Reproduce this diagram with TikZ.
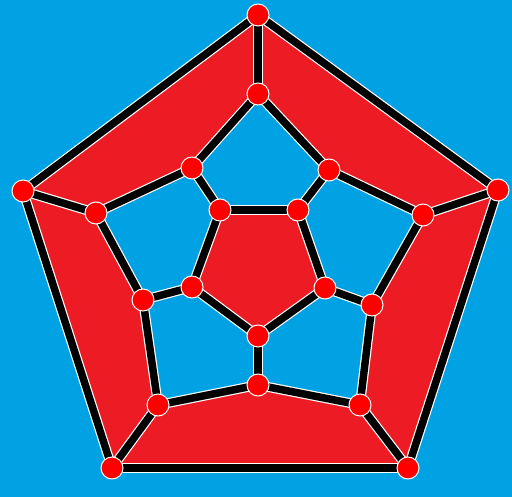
\documentclass[tikz,border=0pt]{standalone}
\usepackage{tikz}
\usetikzlibrary{positioning, backgrounds}

\definecolor{skyblue}{RGB}{0,162,228}
\definecolor{facered}{RGB}{237,28,36}
\definecolor{dotred}{RGB}{255,0,0}

\begin{document}
\begin{tikzpicture}[
    x=1pt, y=-1pt,
    vertex/.style={circle, fill=dotred, draw=white, line width=1pt, minimum size=22pt, inner sep=0pt},
    edge/.style={draw=white, line width=1.2pt, double=black, double distance=7.5pt},
]
\useasboundingbox (0,0) rectangle (512,497);

% outer pentagon
\node[vertex] (o1) at (258,15) {};
\node[vertex] (o2) at (498,190) {};
\node[vertex] (o3) at (408,468) {};
\node[vertex] (o4) at (112,468) {};
\node[vertex] (o5) at (23,191) {};
% middle ring
\node[vertex] (m1) at (258,94) {};
\node[vertex] (m2) at (329,170) {};
\node[vertex] (m3) at (423,215) {};
\node[vertex] (m4) at (372,305) {};
\node[vertex] (m5) at (360,405) {};
\node[vertex] (m6) at (258,385) {};
\node[vertex] (m7) at (158,405) {};
\node[vertex] (m8) at (143,300) {};
\node[vertex] (m9) at (96,213) {};
\node[vertex] (m10) at (192,168) {};
% inner pentagon
\node[vertex] (i1) at (220,210) {};
\node[vertex] (i2) at (298,210) {};
\node[vertex] (i3) at (325,288) {};
\node[vertex] (i4) at (258,336) {};
\node[vertex] (i5) at (192,287) {};

\begin{scope}[on background layer]
  \fill[skyblue] (0,0) rectangle (512,497);
  \fill[facered] (o1.center) -- (o2.center) -- (o3.center) -- (o4.center) -- (o5.center) -- cycle;
  \fill[skyblue] (m1.center) -- (m2.center) -- (m3.center) -- (m4.center) -- (m5.center)
    -- (m6.center) -- (m7.center) -- (m8.center) -- (m9.center) -- (m10.center) -- cycle;
  \fill[facered] (i1.center) -- (i2.center) -- (i3.center) -- (i4.center) -- (i5.center) -- cycle;
  \foreach \a/\b in {o1/o2, o2/o3, o3/o4, o4/o5, o5/o1,
                     o1/m1, o2/m3, o3/m5, o4/m7, o5/m9,
                     m1/m2, m2/m3, m3/m4, m4/m5, m5/m6, m6/m7, m7/m8, m8/m9, m9/m10, m10/m1,
                     m10/i1, m2/i2, m4/i3, m6/i4, m8/i5,
                     i1/i2, i2/i3, i3/i4, i4/i5, i5/i1}
    \draw[edge] (\a.center) -- (\b.center);
\end{scope}

\end{tikzpicture}
\end{document}
